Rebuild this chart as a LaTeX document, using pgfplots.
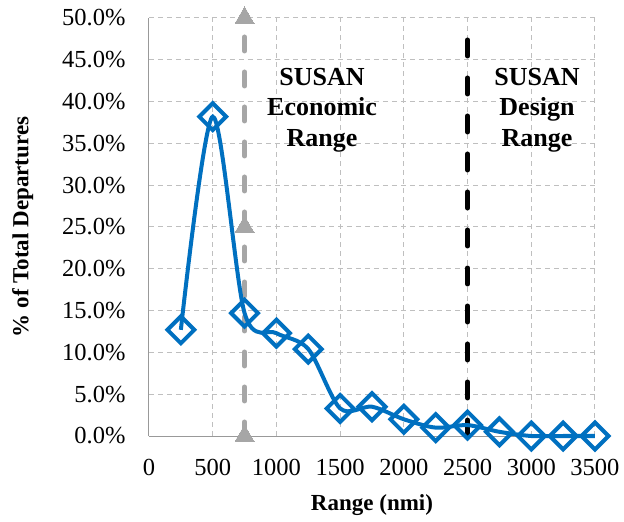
\documentclass[border=0pt]{standalone}
\usepackage{pgfplots}
\pgfplotsset{compat=1.18}
\usepackage{fontspec}
\setmainfont{Liberation Serif}
\definecolor{exblue}{HTML}{0070C0}
\definecolor{exgray}{HTML}{A6A6A6}
\definecolor{gridgray}{HTML}{BFBFBF}
\begin{document}
\begin{tikzpicture}
\begin{axis}[
  name=ax,
  scale only axis,
  width=446pt, height=418pt,
  xmin=0, xmax=3500, ymin=0, ymax=50,
  xtick={0,500,...,3500},
  ytick={0,5,...,50},
  axis x line*=bottom, axis y line*=left,
  axis line style={draw=gray!80, line width=1pt, -},
  major tick length=0pt,
  grid=major,
  major grid style={draw=gridgray, line width=1pt, dash pattern=on 5pt off 4pt},
  /pgf/number format/assume math mode=true,
  tick label style={font=\fontsize{24.5}{28}\selectfont},
  xticklabel style={yshift=-20pt},
  yticklabel style={xshift=-20pt},
  xticklabel={\pgfmathprintnumber[fixed,1000 sep={}]{\tick}},
  yticklabel={\pgfmathprintnumber[fixed,fixed zerofill,precision=1]{\tick}\%},
  xlabel={\textbf{Range (nmi)}},
  ylabel={\textbf{\% of Total Departures}},
  label style={font=\fontsize{23}{27}\selectfont},
  xlabel style={yshift=-12pt},
  ylabel style={yshift=22pt},
  clip=false,
]
\addplot[exgray, line width=5pt, line cap=round, dash pattern=on 14pt off 21pt,
  mark=triangle*, mark size=11pt, mark options={solid, fill=exgray, draw=exgray, line width=0pt}]
  coordinates {(750,0) (750,25) (750,50)};
\addplot[black, line width=5pt, line cap=round, dash pattern=on 16pt off 22pt]
  coordinates {(2500,0) (2500,50)};
\addplot[exblue, line width=4pt, smooth, tension=0.5,
  mark=square, mark size=9.5pt, mark options={solid, rotate=45, fill=white, draw=exblue, line width=4pt}]
  coordinates {
  (250,12.7) (500,38.2) (750,14.7) (1000,12.3) (1250,10.4) (1500,3.3)
  (1750,3.5) (2000,2.0) (2250,1.0) (2500,1.3) (2750,0.5) (3000,0.0)
  (3250,0.0) (3500,0.0)};
\node[font=\bfseries\fontsize{26}{30.5}\selectfont, align=center] at (axis cs:1358,39) {SUSAN\\Economic\\Range};
\node[font=\bfseries\fontsize{26}{30.5}\selectfont, align=center] at (axis cs:3045,39) {SUSAN\\Design\\Range};
\end{axis}
\pgfresetboundingbox
\useasboundingbox ([xshift=-149pt,yshift=-86pt]ax.south west) rectangle ([xshift=29pt,yshift=18pt]ax.north east);
\end{tikzpicture}
\end{document}
